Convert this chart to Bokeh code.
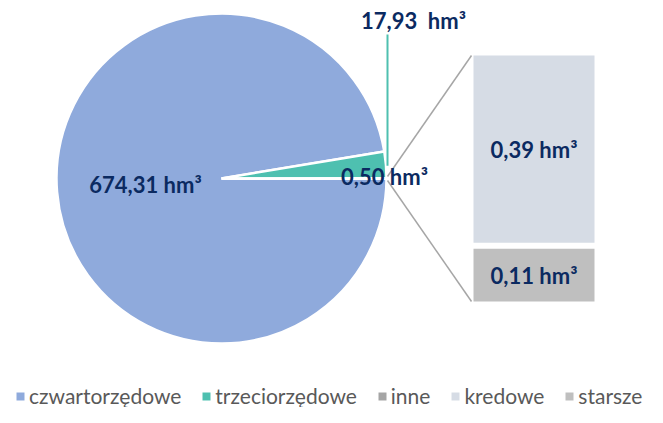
import math
from bokeh.plotting import figure
from bokeh.models import Range1d, ColumnDataSource, Legend, LegendItem
from bokeh.core.properties import value
from bokeh.embed import file_html
from bokeh.resources import INLINE

# ---- data ----
pie_labels = ["czwartorzędowe", "trzeciorzędowe", "inne"]
pie_values = [674.31, 17.93, 0.50]
pie_text = ["674,31 hm³", "17,93 \u00a0hm³", "0,50 hm³"]
bar_labels = ["kredowe", "starsze"]
bar_values = [0.39, 0.11]
bar_text = ["0,39 hm³", "0,11 hm³"]

pie_colors = ["#8FAADC", "#4EC0B0", "#A5A5A5"]
bar_colors = ["#D6DCE5", "#BFBFBF"]
LABEL_COLOR = "#0B2A61"
FONT = "Lato"

W, H = 647, 407
def Y(sy):  # picture y -> data y
    return H - sy

p = figure(width=W, height=H, x_range=Range1d(0, W), y_range=Range1d(0, H),
           output_backend="svg", toolbar_location=None, min_border=0,
           x_axis_location=None, y_axis_location=None)
p.grid.visible = False
p.outline_line_color = None

# ---- pie ----
cx, cy, r = 221, Y(178), 165
total = sum(pie_values)
ang = [v / total * 2 * math.pi for v in pie_values]
a_blue, a_teal, a_inne = ang
starts = [a_inne / 2 + a_teal, a_inne / 2, -a_inne / 2]
ends = [2 * math.pi - a_inne / 2, a_inne / 2 + a_teal, a_inne / 2]
src = ColumnDataSource(dict(start=starts, end=ends, color=pie_colors))
p.wedge(x=cx, y=cy, radius=r, start_angle="start", end_angle="end", direction="anticlock",
        fill_color="color", line_color="white", line_width=2.5, source=src)

# ---- bar of pie ----
bx0, bx1 = 473, 594
btop, bbot, gap = 55, 301, 6
scale = (bbot - btop - gap) / sum(bar_values)
tops, bots = [], []
cur = btop
for v in bar_values:
    tops.append(Y(cur))
    bots.append(Y(cur + v * scale))
    cur = cur + v * scale + gap
p.quad(left=bx0, right=bx1, top=tops, bottom=bots, fill_color=bar_colors, line_color=None)

# connectors
edge_x = cx + r + 1
p.segment(x0=[edge_x, edge_x], y0=[cy + 2, cy - 2], x1=[bx0 - 2, bx0 - 2], y1=[tops[0], bots[-1]],
          line_color="#A6A6A6", line_width=1.5)

# leader line for trzeciorzędowe
mid = a_inne / 2 + a_teal / 2
p.segment(x0=[edge_x], y0=[cy + r * math.sin(mid) - 1], x1=[edge_x], y1=[Y(34)],
          line_color=pie_colors[1], line_width=2)

# ---- labels ----
lx = [cx - 76, edge_x + 26, cx + r - 2, (bx0 + bx1) / 2, (bx0 + bx1) / 2]
ly = [cy - 6, Y(20), cy + 2, (tops[0] + bots[0]) / 2, (tops[1] + bots[1]) / 2]
p.text(x=lx, y=ly, text=pie_text + bar_text, text_align="center", text_baseline="middle",
       text_font=value(FONT), text_font_style="bold", text_font_size="22px", text_color=LABEL_COLOR)

# ---- legend ----
nan = float("nan")
items = []
for name, col in zip(pie_labels + bar_labels, pie_colors + bar_colors):
    rr = p.quad(left=[nan], right=[nan], top=[nan], bottom=[nan], fill_color=col, line_color=None)
    items.append(LegendItem(label=name, renderers=[rr]))
legend = Legend(items=items, orientation="horizontal", location=(15, -1),
                glyph_width=10, glyph_height=10, label_standoff=4, spacing=20,
                label_text_font=FONT, label_text_font_size="21px", label_text_color="#595959",
                padding=0, margin=0, border_line_color=None, background_fill_alpha=0)
p.add_layout(legend)

open("out.html", "w").write(file_html(p, INLINE))
